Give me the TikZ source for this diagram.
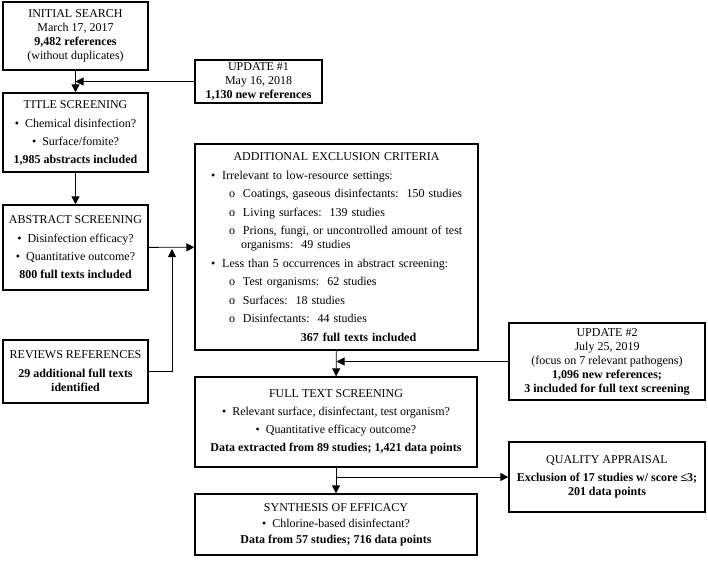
\documentclass[tikz,border=0pt]{standalone}
\usepackage{fontspec}
\setmainfont{Liberation Serif}
\usetikzlibrary{arrows.meta}

\tikzset{
  stage/.style={draw, line width=1.3pt, align=center, inner sep=0pt,
    font=\fontsize{12}{14}\selectfont},
  flow/.style={line width=.8pt, -{Triangle[length=8pt,width=8pt]}},
}
\newcommand{\bul}{\textbullet\ \ }
\newcommand{\topbul}{\hspace*{6pt}\textbullet\hspace{7pt}}
\newcommand{\subbul}{\hspace*{24pt}o\hspace{8pt}}
\newcommand{\midline}[1]{\makebox[263pt][c]{#1}}

\begin{document}
\begin{tikzpicture}[x=1pt, y=-1pt]
  \useasboundingbox (0,0) rectangle (708,566);

  % left column
  \node[stage, minimum width=145, minimum height=68] (init) at (75.5,36)
    {INITIAL SEARCH\\March 17, 2017\\\textbf{9,482 references}\\(without duplicates)};
  \node[stage, minimum width=127, minimum height=43] (upd1) at (258.5,81.5)
    {UPDATE \#1\\May 16, 2018\\\textbf{1,130 new references}};
  \node[stage, minimum width=145, minimum height=79] (title) at (75.5,132.5)
    {TITLE SCREENING\\[5pt]\bul Chemical disinfection?\\[4pt]\bul Surface/fomite?\\[4pt]\textbf{1,985 abstracts included}};
  \node[stage, minimum width=145, minimum height=85] (abst) at (75.5,247.5)
    {ABSTRACT SCREENING\\[5pt]\bul Disinfection efficacy?\\[4pt]\bul Quantitative outcome?\\[4pt]\textbf{800 full texts included}};
  \node[stage, minimum width=145, minimum height=63] (rev) at (75.5,371.5)
    {REVIEWS REFERENCES\\[5pt]\textbf{29 additional full texts}\\\textbf{identified}};

  % middle column
  \node[stage, minimum width=283, minimum height=206, text width=263, align=left, inner xsep=10pt] (excl) at (336.5,247)
    {\spaceskip=4pt plus 1pt minus 1pt
     \midline{ADDITIONAL EXCLUSION CRITERIA}\\[5pt]
     \topbul Irrelevant to low-resource settings:\\[4.5pt]
     \subbul Coatings, gaseous disinfectants:\ \ 150 studies\\[4.5pt]
     \subbul Living surfaces:\ \ 139 studies\\[4.5pt]
     \subbul Prions, fungi, or uncontrolled amount of test\\
     \hspace*{36pt}organisms:\ \ 49 studies\\[4.5pt]
     \topbul Less than 5 occurrences in abstract screening:\\[4.5pt]
     \subbul Test organisms:\ \ 62 studies\\[4.5pt]
     \subbul Surfaces:\ \ 18 studies\\[4.5pt]
     \subbul Disinfectants:\ \ 44 studies\\[4.5pt]
     \midline{\hspace*{44pt}\textbf{367 full texts included}}};
  \node[stage, minimum width=282, minimum height=90] (full) at (336,422)
    {FULL TEXT SCREENING\\[4pt]\bul Relevant surface, disinfectant, test organism?\\[4pt]\bul Quantitative efficacy outcome?\\[4pt]\textbf{Data extracted from 89 studies; 1,421 data points}};
  \node[stage, minimum width=282, minimum height=61] (synth) at (336,524.5)
    {SYNTHESIS OF EFFICACY\\[2pt]\bul Chlorine-based disinfectant?\\[2pt]\textbf{Data from 57 studies; 716 data points}};

  % right column
  \node[stage, minimum width=196, minimum height=77] (upd2) at (607,361.5)
    {UPDATE \#2\\July 25, 2019\\(focus on 7 relevant pathogens)\\\textbf{1,096 new references;}\\\textbf{3 included for full text screening}};
  \node[stage, minimum width=196, minimum height=70] (qual) at (607,477)
    {QUALITY APPRAISAL\\[4pt]\textbf{Exclusion of 17 studies w/ score ≤3;}\\\textbf{201 data points}};

  % junctions
  \coordinate (j1) at (init.south |- upd1.west);
  \coordinate (j2) at (172,249);
  \coordinate (j3) at (excl.south |- upd2.west);
  \coordinate (j4) at (full.south |- qual.west);

  \draw[flow] (init) -- (title);
  \draw[flow] (upd1) -- (j1);
  \draw[flow] (title) -- (abst);
  \draw[flow] (abst) -- (excl);
  \draw[flow] (rev.east) -| (j2);
  \draw[flow] (excl) -- (full);
  \draw[flow] (upd2) -- (j3);
  \draw[flow] (full) -- (synth);
  \draw[flow] (j4) -- (qual);
\end{tikzpicture}
\end{document}
